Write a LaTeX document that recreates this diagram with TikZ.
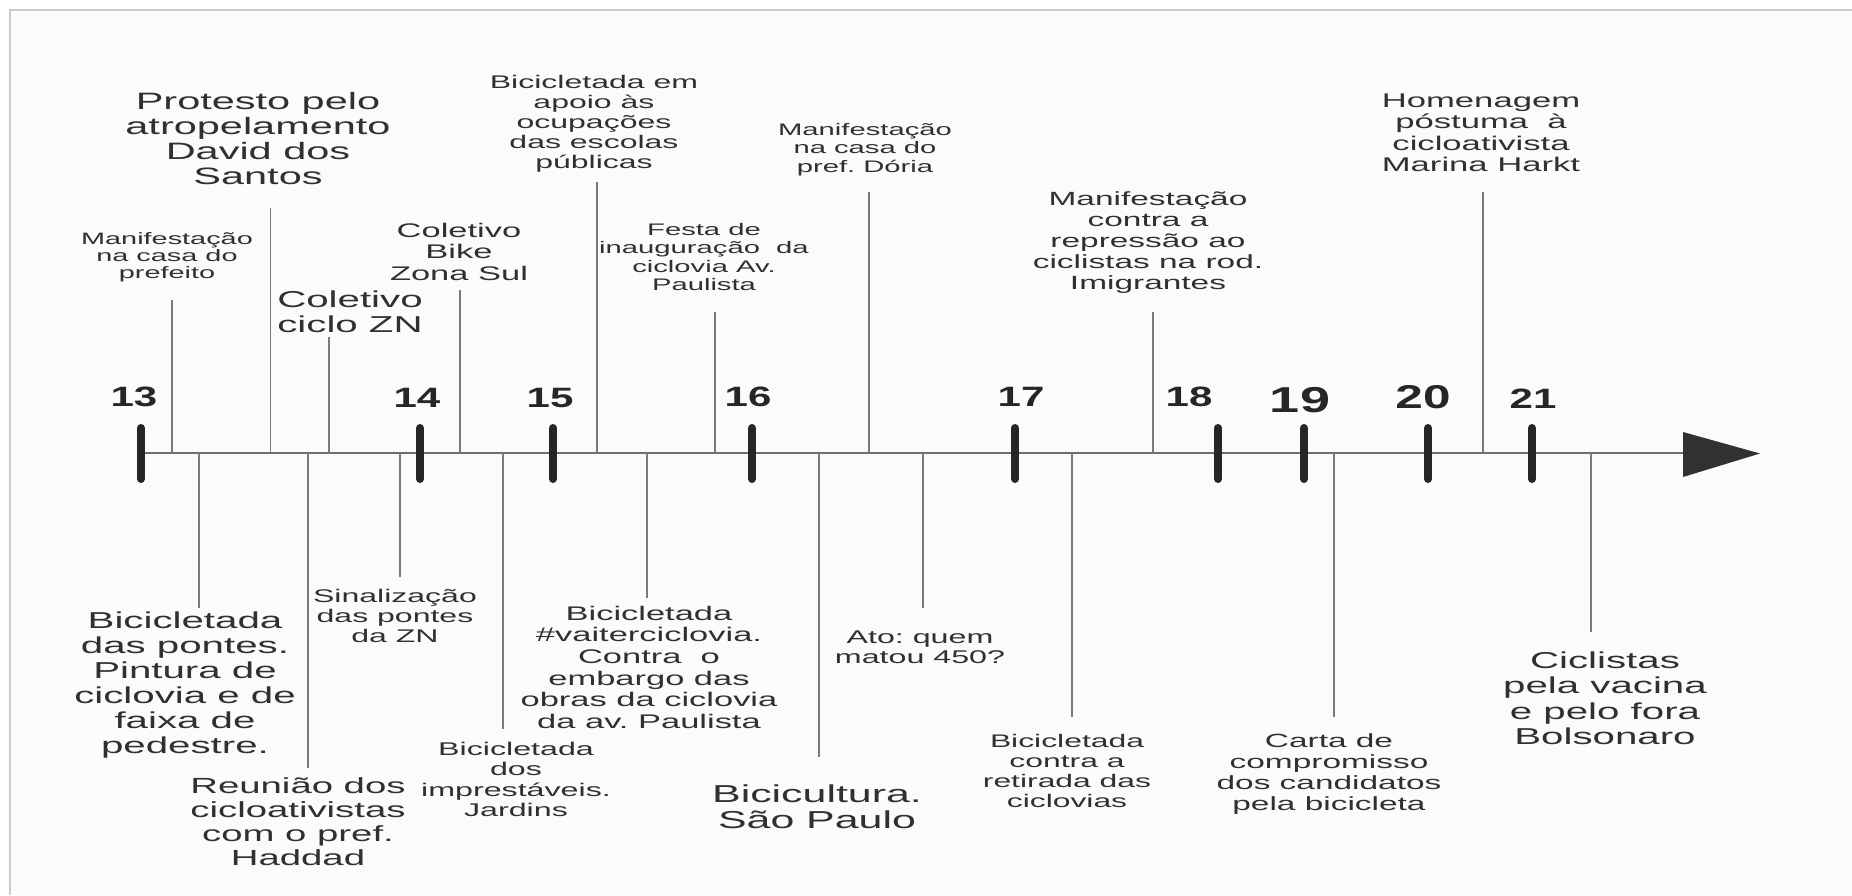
\documentclass[tikz,border=0pt]{standalone}
\usepackage{fontspec}
\newfontfamily\ev{Liberation Sans}[FakeStretch=1.75]
\newfontfamily\tk{Liberation Sans}[FakeStretch=1.5]
\definecolor{txt}{HTML}{303030}
\definecolor{tkcol}{HTML}{262626}
\definecolor{lncol}{HTML}{7A7A7A}
\definecolor{axcol}{HTML}{6E6E6E}
\definecolor{frcol}{HTML}{CCCCCC}
\definecolor{bgcol}{HTML}{FAFBFC}
\newcommand\evf[2]{\ev\frenchspacing\fontsize{#1}{#2}\selectfont}
\newcommand\tkf[1]{\tk\bfseries\fontsize{#1}{#1}\selectfont}
\tikzset{
  evtext/.style={anchor=base, align=center, inner sep=0pt, text=txt},
  evline/.style={draw=lncol, line width=1.5pt},
  tickmark/.style={draw=tkcol, line width=8pt, line cap=round},
  ticklabel/.style={anchor=base, inner sep=0pt, text=tkcol},
  axisline/.style={draw=axcol, line width=2pt},
}
\begin{document}
\begin{tikzpicture}[x=1pt,y=-1pt]
\useasboundingbox (0,0) rectangle (1852,895);
\fill[white] (0,0) rectangle (1852,895);
\fill[bgcol] (10,10) rectangle (1852,895);
\draw[frcol, line width=2pt] (10,895) -- (10,10) -- (1852,10);

% axis
\coordinate (ax0) at (141,453);
\coordinate (ax1) at (1684,453);
\draw[axisline] (ax0) -- (ax1);
\fill[tkcol!95!white] (1683,432) -- (1760,453.5) -- (1683,477) -- cycle;

% ticks
\foreach \n/\x in {13/141,14/420,15/553,16/752,17/1015,18/1218,19/1304,20/1428,21/1532}{
  \coordinate (tt\n) at (\x,428);
  \coordinate (tb\n) at (\x,479);
  \draw[tickmark] (tt\n) -- (tb\n);
}
\node[ticklabel, font=\tkf{28}] (k13) at (134,406) {13};
\node[ticklabel, font=\tkf{28}] (k14) at (417,407) {14};
\node[ticklabel, font=\tkf{28}] (k15) at (550,407) {15};
\node[ticklabel, font=\tkf{28}] (k16) at (748,406) {16};
\node[ticklabel, font=\tkf{28}] (k17) at (1021,406) {17};
\node[ticklabel, font=\tkf{28}] (k18) at (1189,406) {18};
\node[ticklabel, font=\tkf{36}] (k19) at (1300,412) {19};
\node[ticklabel, font=\tkf{33}] (k20) at (1423,408) {20};
\node[ticklabel, font=\tkf{28}] (k21) at (1533,408) {21};

% upper events (anchor = baseline of the last line)
\node[evtext, font={\evf{16.5}{17.3}}] (u1) at (167,278.9) {Manifestação\\na casa do\\prefeito};
\coordinate (u1a) at (172,453); \coordinate (u1b) at (172,300);
\draw[evline] (u1a) -- (u1b);

\node[evtext, font={\evf{23.7}{25.2}}] (u2) at (258,184.9) {Protesto pelo\\atropelamento\\David dos\\Santos};
\coordinate (u2a) at (270.5,453); \coordinate (u2b) at (270.5,208);
\draw[evline] (u2a) -- (u2b);

\node[evtext, font={\evf{23}{25}}] (u3) at (350,332) {Coletivo\\ciclo ZN};
\coordinate (u3a) at (329,453); \coordinate (u3b) at (329,337);
\draw[evline] (u3a) -- (u3b);

\node[evtext, font={\evf{19.7}{21.5}}] (u4) at (459,280) {Coletivo\\Bike\\Zona Sul};
\coordinate (u4a) at (460,453); \coordinate (u4b) at (460,290);
\draw[evline] (u4a) -- (u4b);

\node[evtext, font={\evf{18.3}{20}}] (u5) at (594,168) {Bicicletada em\\apoio às\\ocupações\\das escolas\\públicas};
\coordinate (u5a) at (597,453); \coordinate (u5b) at (597,182);
\draw[evline] (u5a) -- (u5b);

\node[evtext, font={\evf{16.7}{18.5}}] (u6) at (704,290.5) {Festa de\\inauguração~ da\\ciclovia Av.\\Paulista};
\coordinate (u6a) at (715,453); \coordinate (u6b) at (715,312);
\draw[evline] (u6a) -- (u6b);

\node[evtext, font={\evf{16.7}{18.5}}] (u7) at (865,172) {Manifestação\\na casa do\\pref. Dória};
\coordinate (u7a) at (869,453); \coordinate (u7b) at (869,192);
\draw[evline] (u7a) -- (u7b);

\node[evtext, font={\evf{19.1}{21}}] (u8) at (1148,289) {Manifestação\\contra a\\repressão ao\\ciclistas na rod.\\Imigrantes};
\coordinate (u8a) at (1153,453); \coordinate (u8b) at (1153,312);
\draw[evline] (u8a) -- (u8b);

\node[evtext, font={\evf{19.8}{21.6}}] (u9) at (1481,171.8) {Homenagem\\póstuma~ à\\cicloativista\\Marina Harkt};
\coordinate (u9a) at (1483,453); \coordinate (u9b) at (1483,192);
\draw[evline] (u9a) -- (u9b);

% lower events
\node[evtext, font={\evf{23}{25}}] (l1) at (185,753) {Bicicletada\\das pontes.\\Pintura de\\ciclovia e de\\faixa de\\pedestre.};
\coordinate (l1a) at (199,453); \coordinate (l1b) at (199,608);
\draw[evline] (l1a) -- (l1b);

\node[evtext, font={\evf{21.9}{24}}] (l2) at (298,865) {Reunião dos\\cicloativistas\\com o pref.\\Haddad};
\coordinate (l2a) at (308,453); \coordinate (l2b) at (308,768);
\draw[evline] (l2a) -- (l2b);

\node[evtext, font={\evf{18.3}{20}}] (l3) at (395,642) {Sinalização\\das pontes\\da ZN};
\coordinate (l3a) at (400,453); \coordinate (l3b) at (400,577);
\draw[evline] (l3a) -- (l3b);

\node[evtext, font={\evf{18.4}{20.5}}] (l4) at (516,816.5) {Bicicletada\\dos\\imprestáveis.\\Jardins};
\coordinate (l4a) at (503,453); \coordinate (l4b) at (503,729);
\draw[evline] (l4a) -- (l4b);

\node[evtext, font={\evf{19.7}{21.7}}] (l5) at (649,728.5) {Bicicletada\\\#vaiterciclovia.\\Contra~ o\\embargo das\\obras da ciclovia\\da av. Paulista};
\coordinate (l5a) at (647,453); \coordinate (l5b) at (647,598);
\draw[evline] (l5a) -- (l5b);

\node[evtext, font={\evf{24.5}{26.7}}] (l6) at (817,828.7) {Bicicultura.\\São Paulo};
\coordinate (l6a) at (819,453); \coordinate (l6b) at (819,757);
\draw[evline] (l6a) -- (l6b);

\node[evtext, font={\evf{18.4}{20}}] (l7) at (920,663) {Ato: quem\\matou 450?};
\coordinate (l7a) at (923,453); \coordinate (l7b) at (923,608);
\draw[evline] (l7a) -- (l7b);

\node[evtext, font={\evf{18.2}{20}}] (l8) at (1067,807) {Bicicletada\\contra a\\retirada das\\ciclovias};
\coordinate (l8a) at (1072,453); \coordinate (l8b) at (1072,717);
\draw[evline] (l8a) -- (l8b);

\node[evtext, font={\evf{19.1}{21}}] (l9) at (1329,810) {Carta de\\compromisso\\dos candidatos\\pela bicicleta};
\coordinate (l9a) at (1334,453); \coordinate (l9b) at (1334,717);
\draw[evline] (l9a) -- (l9b);

\node[evtext, font={\evf{23}{25.5}}] (l10) at (1605,744.5) {Ciclistas\\pela vacina\\e pelo fora\\Bolsonaro};
\coordinate (l10a) at (1591,453); \coordinate (l10b) at (1591,632);
\draw[evline] (l10a) -- (l10b);
\end{tikzpicture}
\end{document}
